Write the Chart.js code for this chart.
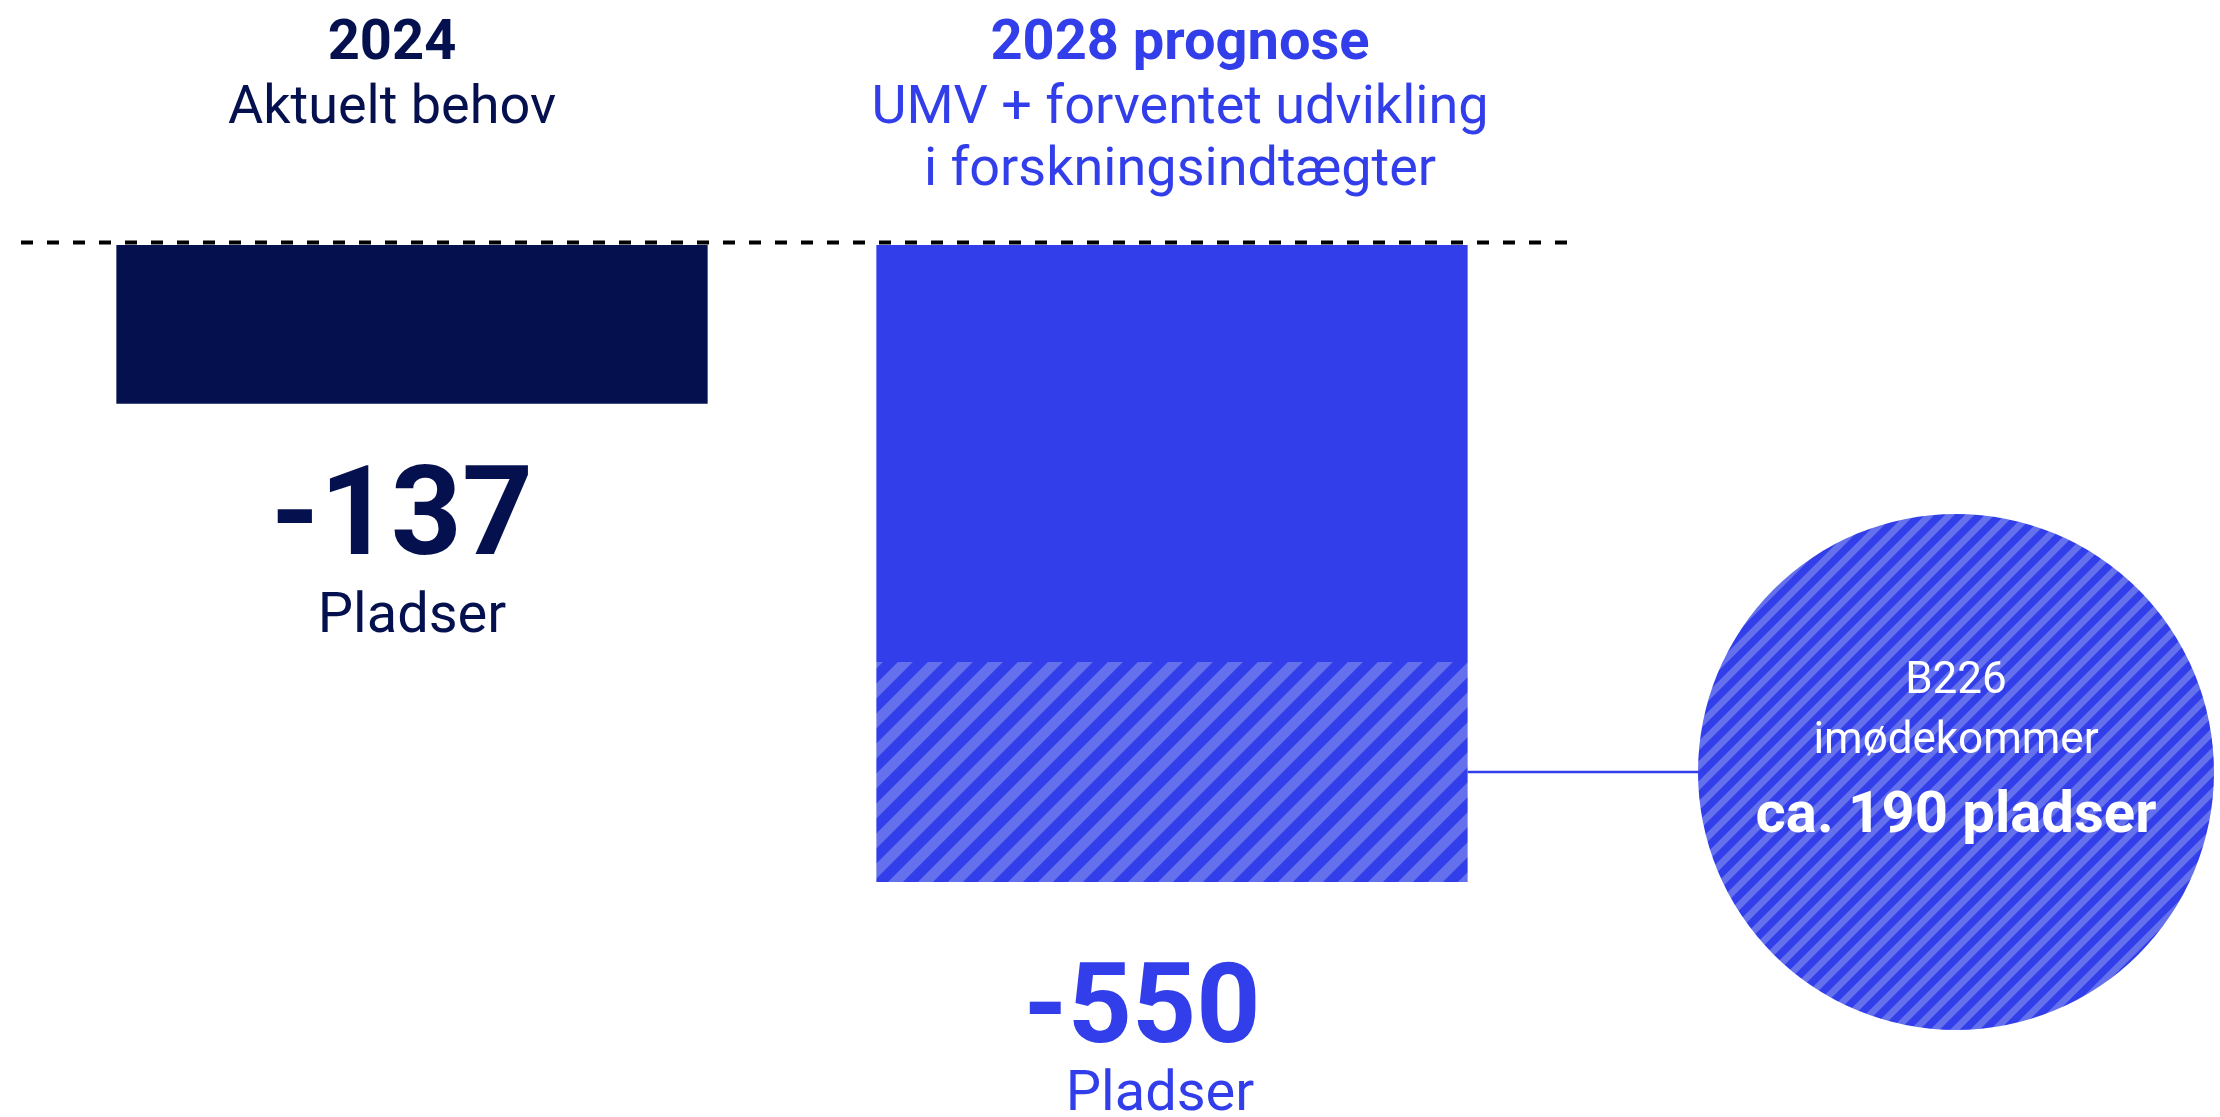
<!DOCTYPE html>
<html>
<head>
<meta charset="utf-8">
<script src="https://cdn.jsdelivr.net/npm/chart.js@4"></script>
<style>
html, body { margin: 0; padding: 0; background: #fff; }
#wrap { width: 2220px; height: 1117px; }
</style>
</head>
<body>
<div id="wrap"><canvas id="gap"></canvas></div>
<script>
var categories = ["2024", "2028"];
var totals = [-137, -550];
var covered = [null, -190];
var uncovered = totals.map(function (v, i) { return v - (covered[i] || 0); });
var titleBold = ["2024", "2028 prognose"];
var titleLines = [["Aktuelt behov"], ["UMV + forventet udvikling", "i forskningsindtægter"]];
var unitLabel = "Pladser";
var circleLines = ["B226", "imødekommer", "ca. 190 pladser"];

var navy = [5, 17, 78];
var blue = [50, 62, 233];
var lightBlue = [100, 112, 236];
function rgb(c) { return "rgb(" + c.join(",") + ")"; }
var font = "Roboto, 'Noto Sans', sans-serif";

// "/" stripes built pixel by pixel, supersampled so edges stay soft
function stripes(period, light) {
  var c = document.createElement("canvas");
  c.width = period;
  c.height = period;
  var g = c.getContext("2d");
  var img = g.createImageData(period, period);
  var n = 4;
  for (var y = 0; y < period; y++) {
    for (var x = 0; x < period; x++) {
      var hit = 0;
      for (var sy = 0; sy < n; sy++) {
        for (var sx = 0; sx < n; sx++) {
          var t = (x + (sx + 0.5) / n + y + (sy + 0.5) / n) % period;
          if (t < light) hit++;
        }
      }
      var f = hit / (n * n);
      var o = (y * period + x) * 4;
      for (var k = 0; k < 3; k++) img.data[o + k] = Math.round(blue[k] + (lightBlue[k] - blue[k]) * f);
      img.data[o + 3] = 255;
    }
  }
  g.putImageData(img, 0, 0);
  return g.createPattern(c, "repeat");
}
var barStripes = stripes(30, 15);
var circleStripes = stripes(20, 9.5);

function text(ctx, str, x, y, size, weight, color) {
  ctx.font = weight + " " + size + "px " + font;
  ctx.fillStyle = color;
  ctx.textAlign = "center";
  ctx.textBaseline = "alphabetic";
  ctx.fillText(str, x, y);
}

var overlay = {
  id: "overlay",
  afterDatasetsDraw: function (chart) {
    var ctx = chart.ctx;
    var area = chart.chartArea;
    var y0 = chart.scales.y.getPixelForValue(0);
    var bars = chart.getDatasetMeta(0).data;
    var colors = [rgb(navy), rgb(blue)];
    var titleDx = [-20, 8];
    var numDx = [-10, -30];
    var unitDx = [0, -12];
    var numSize = [124, 112];
    var numGap = [150, 160];
    ctx.save();

    // dashed zero line
    ctx.setLineDash([12, 14]);
    ctx.lineWidth = 4;
    ctx.strokeStyle = "#000";
    ctx.beginPath();
    ctx.moveTo(area.left - 11, y0 - 2.5);
    ctx.lineTo(area.right + 20, y0 - 2.5);
    ctx.stroke();
    ctx.setLineDash([]);

    categories.forEach(function (c, i) {
      var x = bars[i].x;
      text(ctx, titleBold[i], x + titleDx[i], 59, 56, "bold", colors[i]);
      titleLines[i].forEach(function (line, j) {
        text(ctx, line, x + titleDx[i], 123 + j * 62, 54, "normal", colors[i]);
      });
      var bottom = chart.scales.y.getPixelForValue(totals[i]);
      text(ctx, String(totals[i]), x + numDx[i], bottom + numGap[i], numSize[i], "bold", colors[i]);
      text(ctx, unitLabel, x + unitDx[i], bottom + 228, 56, "normal", colors[i]);
    });

    // circle for the covered share
    var h = chart.getDatasetMeta(1).data[1];
    var r = 258;
    var cx = chart.width - 264;
    var cy = (h.y + h.base) / 2;
    ctx.strokeStyle = rgb(blue);
    ctx.lineWidth = 2.5;
    ctx.beginPath();
    ctx.moveTo(h.x + h.width / 2, cy);
    ctx.lineTo(cx - r, cy);
    ctx.stroke();
    ctx.fillStyle = circleStripes;
    ctx.beginPath();
    ctx.arc(cx, cy, r, 0, Math.PI * 2);
    ctx.fill();
    text(ctx, circleLines[0], cx, cy - 79, 44, "normal", "#fff");
    text(ctx, circleLines[1], cx, cy - 19, 44, "normal", "#fff");
    text(ctx, circleLines[2], cx, cy + 60, 58, "bold", "#fff");
    ctx.restore();
  }
};

new Chart(document.getElementById("gap"), {
  type: "bar",
  data: {
    labels: categories,
    datasets: [
      { label: "Behov", data: uncovered, backgroundColor: [rgb(navy), rgb(blue)] },
      { label: "B226 imødekommer", data: covered, backgroundColor: barStripes }
    ]
  },
  options: {
    responsive: true,
    maintainAspectRatio: false,
    animation: false,
    devicePixelRatio: 1,
    layout: { padding: { left: 32, right: 668, top: 245, bottom: 235 } },
    datasets: { bar: { categoryPercentage: 0.778, barPercentage: 1, borderWidth: 0 } },
    scales: {
      x: { stacked: true, display: false },
      y: { stacked: true, display: false, min: -550, max: 0 }
    },
    plugins: { legend: { display: false }, tooltip: { enabled: false } }
  },
  plugins: [overlay]
});
</script>
</body>
</html>
